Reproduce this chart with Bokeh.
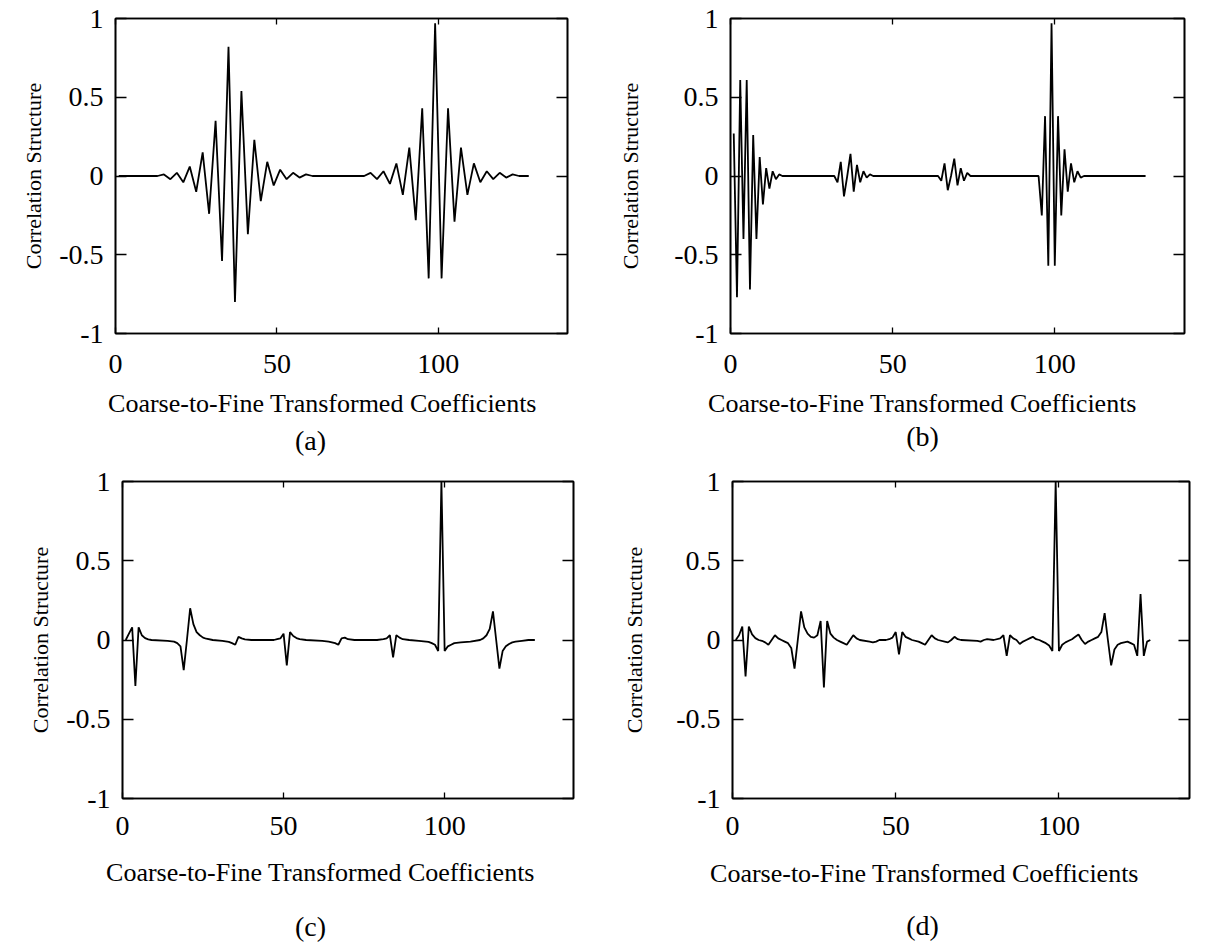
from bokeh.plotting import figure
from bokeh.layouts import column, row
from bokeh.models import Range1d, FixedTicker, LinearAxis
from bokeh.core.properties import value
from bokeh.embed import file_html
from bokeh.resources import INLINE

SERIF = "Liberation Serif"

X_LABEL = "Coarse-to-Fine Transformed Coefficients"
Y_LABEL = "Correlation Structure"
X_TICKS = [0, 50, 100]
Y_TICKS = [-1, -0.5, 0, 0.5, 1]
Y_TICK_TEXT = {-1: "-1", -0.5: "-0.5", 0: "0", 0.5: "0.5", 1: "1"}
CAPTIONS = ["(a)", "(b)", "(c)", "(d)"]

# (a) correlation of coefficient 99, two oscillating bursts
a_idx = [1, 13, 15, 17, 19, 21, 23, 25, 27, 29, 31, 33, 35, 37, 39, 41, 43, 45,
         47, 49, 51, 53, 55, 57, 59, 61,
         77, 79, 81, 83, 85, 87, 89, 91, 93, 95, 97, 99, 101, 103, 105, 107, 109,
         111, 113, 115, 117, 119, 121, 123, 125, 128]
a_val = [0, 0, 0.01, -0.02, 0.02, -0.04, 0.06, -0.10, 0.15, -0.24, 0.35, -0.54, 0.82,
         -0.80, 0.54, -0.37, 0.23, -0.16, 0.09, -0.06, 0.04, -0.02, 0.02, -0.01, 0.01, 0,
         0, 0.02, -0.02, 0.03, -0.05, 0.08, -0.12, 0.18, -0.28, 0.43, -0.65, 0.97,
         -0.65, 0.43, -0.29, 0.18, -0.12, 0.08, -0.04, 0.03, -0.02, 0.02, -0.01, 0.01, 0, 0]

# (b)
b_idx = [1, 2, 3, 4, 5, 6, 7, 8, 9, 10, 11, 12, 13, 14, 15, 16,
         32, 33, 34, 35, 36, 37, 38, 39, 40, 41, 42, 43, 44,
         64, 65, 66, 67, 68, 69, 70, 71, 72, 73, 74,
         95, 96, 97, 98, 99, 100, 101, 102, 103, 104, 105, 106, 107, 108, 109, 128]
b_val = [0.27, -0.77, 0.61, -0.40, 0.61, -0.72, 0.26, -0.40, 0.12, -0.18, 0.05, -0.08,
         0.03, -0.02, 0.01, 0,
         0, -0.04, 0.09, -0.13, 0.0, 0.14, -0.10, 0.07, -0.04, 0.03, -0.01, 0.01, 0,
         0, -0.03, 0.08, -0.09, 0.0, 0.11, -0.06, 0.05, -0.03, 0.02, 0,
         0, -0.25, 0.38, -0.57, 0.97, -0.57, 0.38, -0.25, 0.17, -0.10, 0.08, -0.04,
         0.03, -0.01, 0, 0]

# (c)
c_idx = [1, 2, 3, 4, 5, 6, 7, 8, 9, 14, 16, 17, 18, 19, 20, 21, 22, 23, 24, 25, 26, 28,
         31, 33, 34, 35, 36, 37, 38, 40, 47, 48, 49, 50, 51, 52, 53, 54, 55, 57,
         62, 64, 66, 67, 68, 69, 70, 72, 79, 81, 82, 83, 84, 85, 86, 87, 89,
         92, 95, 96, 97, 98, 99, 100, 101, 102, 103, 105, 108, 111,
         112, 113, 114, 115, 116, 117, 118, 119, 120, 121, 122, 124, 126, 128]
c_val = [0.0, 0.04, 0.08, -0.29, 0.08, 0.03, 0.012, 0.004, 0.0, -0.005, -0.01, -0.02,
         -0.04, -0.19, 0.0, 0.20, 0.10, 0.05, 0.03, 0.015, 0.008, 0.0,
         -0.005, -0.012, -0.02, -0.03, 0.02, 0.01, 0.004, 0.0, 0.0, 0.005, 0.01, 0.04,
         -0.16, 0.05, 0.025, 0.012, 0.005, 0.0,
         -0.005, -0.01, -0.02, -0.03, 0.01, 0.015, 0.005, 0.0, 0.0, 0.005, 0.01, 0.03,
         -0.11, 0.03, 0.015, 0.005, 0.0,
         -0.005, -0.012, -0.02, -0.03, -0.07, 1.0, -0.07, -0.04, -0.03, -0.02, -0.015,
         -0.01, 0.0,
         0.01, 0.03, 0.07, 0.18, 0.0, -0.18, -0.07, -0.04, -0.025, -0.015, -0.01,
         -0.005, 0.0, 0.0]

# (d)
d_idx = [1, 2, 3, 4, 5, 6, 7, 8, 9, 10, 11, 12, 13, 14, 15, 16, 17, 18, 19, 20, 21, 22,
         23, 24, 25, 26, 27, 28, 29, 30, 31, 32, 33, 34, 35, 36, 37, 38, 39, 42, 43, 44,
         45, 47, 48, 49, 50, 51, 52, 53, 54, 55, 57, 58, 59, 60, 61, 62, 63, 65, 66, 67,
         68, 69, 70, 75, 76, 77, 78, 80, 82, 83, 84, 85, 86, 87, 88, 89, 90, 91, 92, 93,
         94, 95, 96, 97, 98, 99, 100, 101, 102, 103, 104, 105, 106, 107, 108, 109, 110,
         111, 112, 113, 114, 115, 116, 117, 118, 119, 120, 121, 122, 123, 124, 125, 126,
         127, 128]
d_val = [0.0, 0.03, 0.085, -0.23, 0.085, 0.035, 0.012, 0.0, -0.005, -0.015, -0.03, 0.0,
         0.03, 0.01, 0.0, -0.01, -0.02, -0.05, -0.18, 0.0, 0.18, 0.08,
         0.04, 0.02, 0.015, 0.03, 0.12, -0.30, 0.12, 0.04, 0.015, 0.0, -0.01, -0.02,
         -0.03, 0.0, 0.03, 0.01, 0.0, -0.01, -0.015, -0.01,
         0.0, 0.0, 0.005, 0.015, 0.05, -0.09, 0.05, 0.02, 0.01, 0.0, -0.01, -0.02, -0.03,
         0.0, 0.03, 0.01, 0.0, -0.01, -0.015, 0.0,
         0.02, 0.005, 0.0, -0.005, -0.01, 0.0, 0.005, 0.0, 0.01, 0.03, -0.10, 0.03, 0.01,
         0.0, -0.025, -0.01, 0.0, 0.01, 0.02, 0.005,
         0.0, -0.01, -0.02, -0.035, -0.07, 1.0, -0.07, -0.03, -0.015, -0.005, 0.005,
         0.02, 0.035, 0.0, -0.025, -0.01, 0.0,
         0.01, 0.02, 0.05, 0.17, 0.0, -0.16, -0.06, -0.03, -0.02, -0.015, -0.01, -0.02,
         -0.03, -0.10, 0.29, -0.10, -0.01,
         0.0, 0.0]

SERIES = [(a_idx, a_val), (b_idx, b_val), (c_idx, c_val), (d_idx, d_val)]

# plot canvas and borders: (width, height, left, right, top, bottom)
GEOM = [(615, 390, 115, 48, 18, 55),
        (616, 390, 112, 47, 16, 57),
        (615, 395, 122, 42, 21, 55),
        (616, 395, 117, 42, 21, 57)]
# strip under each plot holding the axis title and the caption
STRIP_H = [70, 70, 91, 91]
# centres (x, y from the strip's top-left corner) of the axis title and the caption
STRIP_TEXT = [((322, 13), (310, 50)),
              ((307, 13), (307, 46)),
              ((320, 17), (310, 71)),
              ((309, 18), (307, 70))]
TICK_STANDOFF = [21, 21, 18, 18]
YLABEL_STANDOFF = [10, 28, 10, 26]


def style_axis(ax, ticks, tick_len, show_labels):
    ax.ticker = FixedTicker(ticks=ticks)
    ax.minor_tick_line_color = None
    ax.major_tick_in = tick_len
    ax.major_tick_out = 0
    ax.major_tick_line_color = "black"
    ax.major_tick_line_width = 1.3
    ax.axis_line_color = "black"
    ax.axis_line_width = 1.6
    if show_labels:
        ax.major_label_text_font = SERIF
        ax.major_label_text_font_size = "28px"
        ax.major_label_text_color = "black"
    else:
        ax.major_label_text_color = None
        ax.major_label_text_font_size = "1px"
        ax.major_label_standoff = 0


def make_plot(k):
    idx, val = SERIES[k]
    w, h, bl, br, bt, bb = GEOM[k]
    p = figure(width=w, height=h, output_backend="svg", toolbar_location=None,
               x_range=Range1d(0, 140), y_range=Range1d(-1, 1),
               min_border_left=bl, min_border_right=br,
               min_border_top=bt, min_border_bottom=bb)
    p.grid.visible = False
    p.outline_line_color = "black"
    p.outline_line_width = 1.6
    p.background_fill_color = "white"
    p.border_fill_color = "white"

    style_axis(p.xaxis[0], X_TICKS, 6, True)
    p.xaxis.major_label_standoff = TICK_STANDOFF[k]
    style_axis(p.yaxis[0], Y_TICKS, 11, True)
    p.yaxis.major_label_overrides = Y_TICK_TEXT
    p.yaxis.major_label_standoff = 12
    p.yaxis.axis_label = Y_LABEL
    p.yaxis.axis_label_text_font = SERIF
    p.yaxis.axis_label_text_font_size = "22px"
    p.yaxis.axis_label_text_font_style = "normal"
    p.yaxis.axis_label_text_color = "black"
    p.yaxis.axis_label_standoff = YLABEL_STANDOFF[k]

    top = LinearAxis()
    style_axis(top, X_TICKS, 6, False)
    p.add_layout(top, "above")
    right = LinearAxis()
    style_axis(right, Y_TICKS, 11, False)
    p.add_layout(right, "right")

    p.line(idx, val, line_color="black", line_width=1.8)
    return p


def make_strip(k):
    w = GEOM[k][0]
    h = STRIP_H[k]
    (lx, ly), (cx, cy) = STRIP_TEXT[k]
    s = figure(width=w, height=h, output_backend="svg", toolbar_location=None,
               x_range=Range1d(0, w), y_range=Range1d(h, 0),
               x_axis_type=None, y_axis_type=None,
               min_border_left=0, min_border_right=0,
               min_border_top=0, min_border_bottom=0)
    s.grid.visible = False
    s.outline_line_color = None
    s.background_fill_color = "white"
    s.border_fill_color = "white"
    s.text(x=[lx], y=[ly], text=[X_LABEL], text_font=value(SERIF),
           text_font_size="26px", text_align="center", text_baseline="middle",
           text_color="black")
    s.text(x=[cx], y=[cy], text=[CAPTIONS[k]], text_font=value(SERIF),
           text_font_size="28px", text_align="center", text_baseline="middle",
           text_color="black")
    return s


plots = [make_plot(k) for k in range(4)]
strips = [make_strip(k) for k in range(4)]
# strips sit in their own rows so their frames span the whole strip width
layout = column(row(plots[0], plots[1]), row(strips[0], strips[1]),
                row(plots[2], plots[3]), row(strips[2], strips[3]))

open("out.html", "w").write(file_html(layout, INLINE))
